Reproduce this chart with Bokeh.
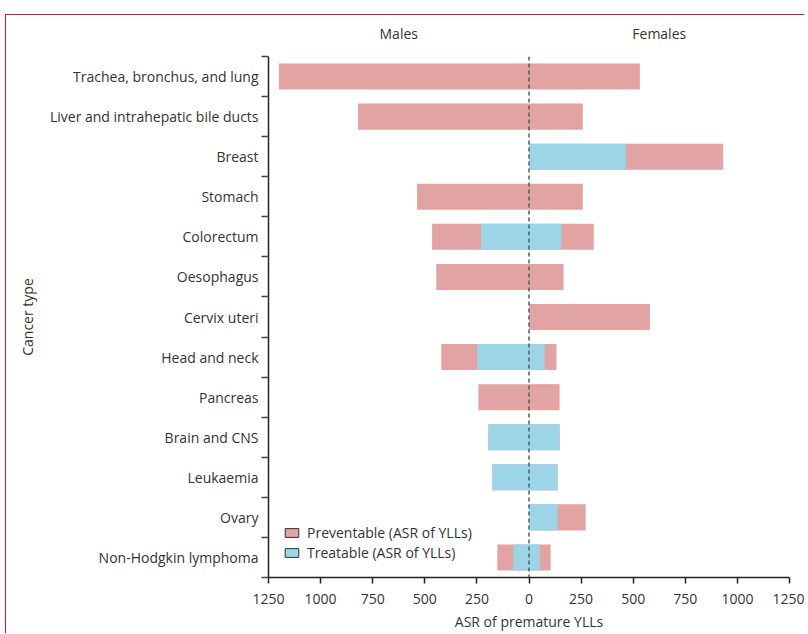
from bokeh.plotting import figure
from bokeh.models import FixedTicker, LinearAxis, Span, Range1d, ColumnDataSource, Legend, LegendItem
from bokeh.embed import file_html
from bokeh.resources import INLINE

cancers = ["Trachea, bronchus, and lung", "Liver and intrahepatic bile ducts", "Breast",
           "Stomach", "Colorectum", "Oesophagus", "Cervix uteri", "Head and neck",
           "Pancreas", "Brain and CNS", "Leukaemia", "Ovary", "Non-Hodgkin lymphoma"]
male_treatable = [0, 0, 0, 0, 229, 0, 0, 249, 0, 195, 176, 0, 75]
male_total = [1200, 821, 0, 537, 465, 445, 0, 421, 243, 195, 176, 0, 152]
female_treatable = [0, 0, 465, 0, 156, 0, 0, 75, 0, 147, 137, 137, 51]
female_total = [532, 258, 932, 258, 311, 166, 580, 132, 147, 147, 137, 272, 104]
x_ticks = [-1250, -1000, -750, -500, -250, 0, 250, 500, 750, 1000, 1250]

PINK = "#E2A4A2"
BLUE = "#9DD5E8"
TXT = "#333333"
FONT = "Open Sans"

n = len(cancers)
ypos = [n - 1 - i + 0.5 for i in range(n)]

src = ColumnDataSource(dict(
    y=ypos,
    m_t=[-v for v in male_treatable],
    m_tot=[-v for v in male_total],
    f_t=female_treatable,
    f_tot=female_total,
    zero=[0] * n,
))

p = figure(frame_width=521, frame_height=521, output_backend="svg", toolbar_location=None,
           x_range=Range1d(-1250, 1250), y_range=Range1d(0, n),
           min_border_left=262, min_border_right=15, min_border_top=41, min_border_bottom=50,
           background_fill_color="white", border_fill_color="white")
p.styles = {"border-top": "1.5px solid #C8164B", "border-left": "1.5px solid #C8164B",
            "margin-left": "5px", "margin-top": "14px", "margin-bottom": "-20px"}
p.outline_line_color = None
p.grid.visible = False

H = 0.65
p.hbar(y="y", left="m_tot", right="zero", height=H, fill_color=PINK, line_color=None, source=src)
p.hbar(y="y", left="zero", right="f_tot", height=H, fill_color=PINK, line_color=None, source=src)
p.hbar(y="y", left="m_t", right="zero", height=H, fill_color=BLUE, line_color=None, source=src)
p.hbar(y="y", left="zero", right="f_t", height=H, fill_color=BLUE, line_color=None, source=src)

p.add_layout(Span(location=0, dimension="height", line_color="#4E5D68", line_width=1.5,
                  line_dash="4 3"))

# legend proxies (placed outside the visible range, zero size)
r_prev = p.hbar(y=[-1], left=[0], right=[0], height=0, fill_color=PINK, line_color="#333333", line_width=1)
r_treat = p.hbar(y=[-1], left=[0], right=[0], height=0, fill_color=BLUE, line_color="#333333", line_width=1)
legend = Legend(items=[LegendItem(label="Preventable (ASR of YLLs)", renderers=[r_prev]),
                       LegendItem(label="Treatable (ASR of YLLs)", renderers=[r_treat])],
                location=(15, 15), orientation="vertical")
legend.glyph_width = 17
legend.glyph_height = 11
legend.label_height = 20
legend.label_standoff = 7
legend.spacing = 0
legend.padding = 0
legend.margin = 0
legend.border_line_color = None
legend.background_fill_alpha = 0
legend.label_text_font = FONT
legend.label_text_font_size = "14px"
legend.label_text_color = TXT
p.add_layout(legend)

# x axis
xa = p.xaxis[0]
xa.ticker = FixedTicker(ticks=x_ticks)
xa.major_label_overrides = {t: str(abs(t)) for t in x_ticks}
xa.minor_tick_line_color = None
xa.major_tick_out = 6
xa.major_tick_in = 0
xa.major_label_standoff = 10
xa.axis_line_color = "#222222"
xa.major_tick_line_color = "#222222"
xa.axis_line_width = 1.5
xa.major_tick_line_width = 1.5
xa.major_label_text_font = FONT
xa.major_label_text_font_size = "14px"
xa.major_label_text_color = TXT
xa.axis_label = "ASR of premature YLLs"
xa.axis_label_text_font = FONT
xa.axis_label_text_font_size = "14px"
xa.axis_label_text_font_style = "normal"
xa.axis_label_text_color = TXT
xa.axis_label_standoff = 5

# y axis
ya = p.yaxis[0]
ya.ticker = FixedTicker(ticks=ypos, minor_ticks=list(range(n + 1)))
ya.major_label_overrides = {y: c for y, c in zip(ypos, cancers)}
ya.major_tick_line_color = None
ya.major_tick_out = 0
ya.major_tick_in = 0
ya.minor_tick_out = 7
ya.minor_tick_in = 0
ya.minor_tick_line_color = "#444444"
ya.minor_tick_line_width = 1.5
ya.axis_line_color = "#222222"
ya.axis_line_width = 1.5
ya.major_label_standoff = 3
ya.major_label_text_font = FONT
ya.major_label_text_font_size = "14px"
ya.major_label_text_color = TXT
ya.axis_label = "Cancer type"
ya.axis_label_text_font = FONT
ya.axis_label_text_font_size = "14px"
ya.axis_label_text_font_style = "normal"
ya.axis_label_text_color = TXT
ya.axis_label_standoff = 10

# top axis with sex labels
top = LinearAxis(ticker=FixedTicker(ticks=[-625, 625]),
                 major_label_overrides={-625: "Males", 625: "Females"})
top.axis_line_color = None
top.major_tick_line_color = None
top.minor_tick_line_color = None
top.major_label_standoff = 8
top.major_label_text_font = FONT
top.major_label_text_font_size = "14px"
top.major_label_text_color = TXT
p.add_layout(top, "above")

open("out.html", "w").write(file_html(p, INLINE))
